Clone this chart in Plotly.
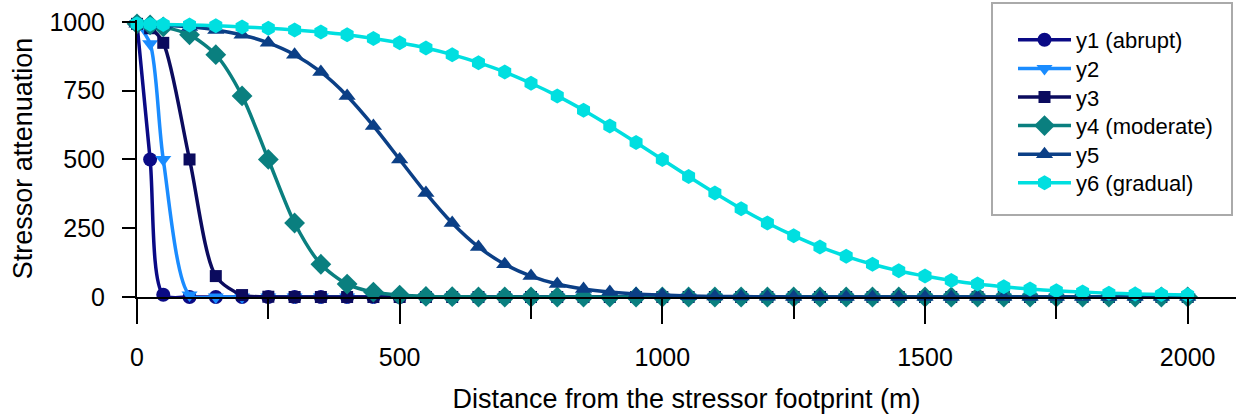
import plotly.graph_objects as go

distance = [0, 25, 50, 100, 150, 200, 250, 300, 350, 400, 450, 500, 550, 600, 650, 700,
            750, 800, 850, 900, 950, 1000, 1050, 1100, 1150, 1200, 1250, 1300, 1350, 1400,
            1450, 1500, 1550, 1600, 1650, 1700, 1750, 1800, 1850, 1900, 1950, 2000]

y1 = [993, 500, 8, 0, 0, 0, 0, 0, 0, 0, 0, 0, 0, 0, 0, 0, 0, 0, 0, 0, 0, 0, 0, 0, 0, 0, 0, 0,
      0, 0, 0, 0, 0, 0, 0, 0, 0, 0, 0, 0, 0, 0]
y2 = [993, 921, 500, 7, 0, 0, 0, 0, 0, 0, 0, 0, 0, 0, 0, 0, 0, 0, 0, 0, 0, 0, 0, 0, 0, 0, 0, 0,
      0, 0, 0, 0, 0, 0, 0, 0, 0, 0, 0, 0, 0, 0]
y3 = [993, 977, 924, 500, 76, 7, 1, 0, 0, 0, 0, 0, 0, 0, 0, 0, 0, 0, 0, 0, 0, 0, 0, 0, 0, 0, 0,
      0, 0, 0, 0, 0, 0, 0, 0, 0, 0, 0, 0, 0, 0, 0]
y4 = [993, 989, 982, 953, 881, 731, 500, 269, 119, 47, 18, 7, 2, 1, 0, 0, 0, 0, 0, 0, 0, 0, 0,
      0, 0, 0, 0, 0, 0, 0, 0, 0, 0, 0, 0, 0, 0, 0, 0, 0, 0, 0]
y5 = [993, 991, 989, 982, 971, 953, 924, 881, 818, 731, 622, 500, 378, 269, 182, 119, 76, 47,
      29, 18, 11, 7, 4, 2, 1.5, 1, 0, 0, 0, 0, 0, 0, 0, 0, 0, 0, 0, 0, 0, 0, 0, 0]
y6 = [993, 992, 991, 989, 986, 982, 977, 971, 963, 953, 940, 924, 905, 881, 852, 818, 777, 731,
      679, 622, 562, 500, 438, 378, 321, 269, 223, 182, 148, 119, 95, 76, 60, 47, 37, 29, 23,
      18, 14, 11, 9, 7]

series = [
    ("y1 (abrupt)", y1, "#0a0a85", "circle", 14),
    ("y2", y2, "#1a8cff", "triangle-down", 14),
    ("y3", y3, "#0b0b5e", "square", 12),
    ("y4 (moderate)", y4, "#0a7f7f", "diamond", 16),
    ("y5", y5, "#0b3f86", "triangle-up", 15),
    ("y6 (gradual)", y6, "#00dfe0", "hexagon", 15),
]

font_family = "Liberation Sans, Arial, sans-serif"
PLOT_TOP, PLOT_H, PLOT_L, PLOT_W = 20, 277, 137, 1099
row_px = [40, 68.6, 97.2, 125.8, 154.4, 183]

fig = go.Figure()
legends = {}
for i, (name, ys, color, sym, size) in enumerate(series):
    lname = "legend" if i == 0 else f"legend{i + 1}"
    fig.add_trace(go.Scatter(
        x=distance, y=ys, name=name, mode="lines+markers",
        line=dict(color=color, width=3.5, shape="spline", smoothing=0.8),
        marker=dict(symbol=sym, size=size, color=color),
        cliponaxis=False, legend=lname,
    ))
    legends[lname] = dict(
        x=(1013 - PLOT_L) / PLOT_W, y=1 - (row_px[i] - PLOT_TOP) / PLOT_H,
        xanchor="left", yanchor="middle",
        font=dict(size=22, family=font_family, color="black"),
        bgcolor="rgba(0,0,0,0)", borderwidth=0, itemwidth=53,
    )

fig.update_layout(
    width=1236, height=414,
    margin=dict(l=PLOT_L, r=0, t=PLOT_TOP, b=117),
    paper_bgcolor="white", plot_bgcolor="white",
    font=dict(family=font_family, color="black"),
    showlegend=True,
    shapes=[dict(type="rect", xref="paper", yref="paper",
                 x0=(992 - PLOT_L) / PLOT_W, x1=(1232 - PLOT_L) / PLOT_W,
                 y0=1 - (215 - PLOT_TOP) / PLOT_H, y1=1 + (PLOT_TOP - 3) / PLOT_H,
                 line=dict(color="#aaaaaa", width=2), fillcolor="rgba(0,0,0,0)",
                 layer="below")],
    **legends,
)

fig.update_xaxes(
    range=[0, 2092], tickvals=[0, 500, 1000, 1500, 2000],
    ticks="outside", ticklen=25, tickwidth=2, tickcolor="black",
    minor=dict(tickvals=[250, 750, 1250, 1750], ticks="outside", ticklen=20,
               tickwidth=1.5, tickcolor="black"),
    showline=True, linecolor="black", linewidth=2,
    showgrid=False, zeroline=False,
    tickfont=dict(size=25), ticklabelstandoff=12,
    title=dict(text="Distance from the stressor footprint (m)", font=dict(size=27), standoff=21),
)
fig.update_yaxes(
    range=[0, 1007], tickvals=[0, 250, 500, 750, 1000],
    ticks="outside", ticklen=13, tickwidth=2, tickcolor="black",
    showline=True, linecolor="black", linewidth=2,
    showgrid=False, zeroline=False,
    tickfont=dict(size=25), ticklabelstandoff=12,
    title=dict(text="Stressor attenuation", font=dict(size=27), standoff=9),
)

fig.write_html("out.html")
